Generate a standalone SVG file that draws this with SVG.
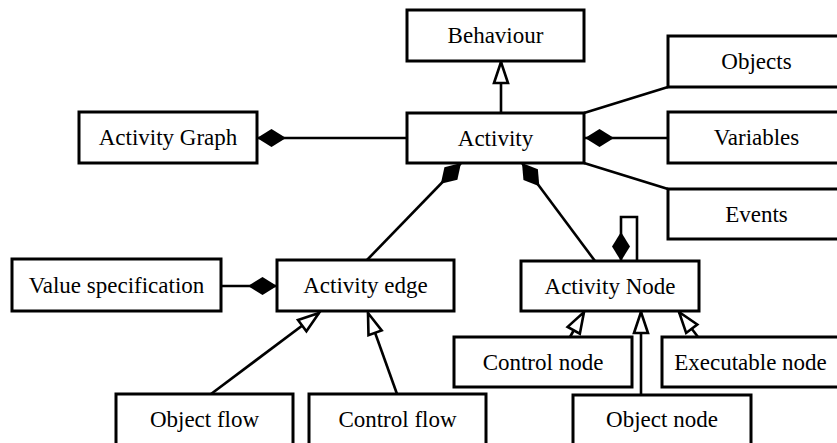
<svg xmlns="http://www.w3.org/2000/svg" width="837" height="443" viewBox="0 0 837 443">
  <style>
    .box { fill: #fff; stroke: #000; stroke-width: 3; }
    .lbl { font-family: "Liberation Serif", Tinos, "Times New Roman", Times, "DejaVu Serif", serif; font-size: 23px; fill: #000; text-anchor: middle; }
    .conn { fill: none; stroke: #000; stroke-width: 2.6; }
    .comp { marker-end: url(#diamond); }
    .gen { marker-end: url(#triangle); }
  </style>
  <defs>
    <!-- filled diamond: composition end -->
    <marker id="diamond" markerUnits="userSpaceOnUse" viewBox="-1 -10 32 20" markerWidth="32" markerHeight="20" refX="29" refY="0" orient="auto">
      <path d="M0,0 L14.5,-9 L29,0 L14.5,9 Z" fill="#000"/>
    </marker>
    <!-- hollow triangle: generalisation end -->
    <marker id="triangle" markerUnits="userSpaceOnUse" viewBox="-2 -10 26 20" markerWidth="26" markerHeight="20" refX="21" refY="0" orient="auto">
      <path d="M0,-7 L21,0 L0,7 Z" fill="#fff" stroke="#000" stroke-width="2.6" stroke-linejoin="miter"/>
    </marker>
  </defs>

  <g id="connectors">
    <!-- generalisations -->
    <path class="conn gen" d="M501,113 V62"/>
    <path class="conn gen" d="M211,394 L319,313"/>
    <path class="conn gen" d="M397,394 L368,313"/>
    <path class="conn gen" d="M570,337 L584,312"/>
    <path class="conn gen" d="M641,395 V312"/>
    <path class="conn gen" d="M698,337 L679,312"/>
    <!-- compositions -->
    <path class="conn comp" d="M407,138 H257"/>
    <path class="conn comp" d="M668,138 H585"/>
    <path class="conn comp" d="M221,286 H277"/>
    <path class="conn comp" d="M367,260 L461,163"/>
    <path class="conn comp" d="M595,261 L522,163"/>
    <path class="conn comp" d="M637,261 V217 H621 V261"/>
    <!-- plain associations -->
    <path class="conn" d="M584,113 L668,87"/>
    <path class="conn" d="M584,163 L668,189"/>
  </g>

  <g id="behaviour"><rect class="box" x="407" y="10" width="177" height="51"/><text class="lbl" x="495.5" y="43">Behaviour</text></g>
  <g id="activity"><rect class="box" x="407" y="113" width="177" height="50"/><text class="lbl" x="495.5" y="146">Activity</text></g>
  <g id="activity-graph"><rect class="box" x="79" y="112" width="178" height="51"/><text class="lbl" x="168" y="145">Activity Graph</text></g>
  <g id="objects"><rect class="box" x="668" y="36" width="177" height="51"/><text class="lbl" x="756.5" y="69">Objects</text></g>
  <g id="variables"><rect class="box" x="668" y="112" width="177" height="51"/><text class="lbl" x="756.5" y="145">Variables</text></g>
  <g id="events"><rect class="box" x="668" y="189" width="177" height="50"/><text class="lbl" x="756.5" y="222">Events</text></g>
  <g id="value-specification"><rect class="box" x="12" y="259" width="209" height="52"/><text class="lbl" x="116.5" y="293">Value specification</text></g>
  <g id="activity-edge"><rect class="box" x="277" y="260" width="177" height="51"/><text class="lbl" x="365.5" y="293">Activity edge</text></g>
  <g id="activity-node"><rect class="box" x="521" y="261" width="178" height="50"/><text class="lbl" x="610" y="293.5">Activity Node</text></g>
  <g id="control-node"><rect class="box" x="454" y="337" width="178" height="50"/><text class="lbl" x="543" y="369.5">Control node</text></g>
  <g id="executable-node"><rect class="box" x="662" y="337" width="177" height="50"/><text class="lbl" x="750.5" y="369.5">Executable node</text></g>
  <g id="object-flow"><rect class="box" x="116" y="394" width="177" height="56"/><text class="lbl" x="204.5" y="427">Object flow</text></g>
  <g id="control-flow"><rect class="box" x="309" y="394" width="177" height="56"/><text class="lbl" x="397.5" y="427">Control flow</text></g>
  <g id="object-node"><rect class="box" x="573" y="395" width="178" height="55"/><text class="lbl" x="662" y="427">Object node</text></g>
</svg>
